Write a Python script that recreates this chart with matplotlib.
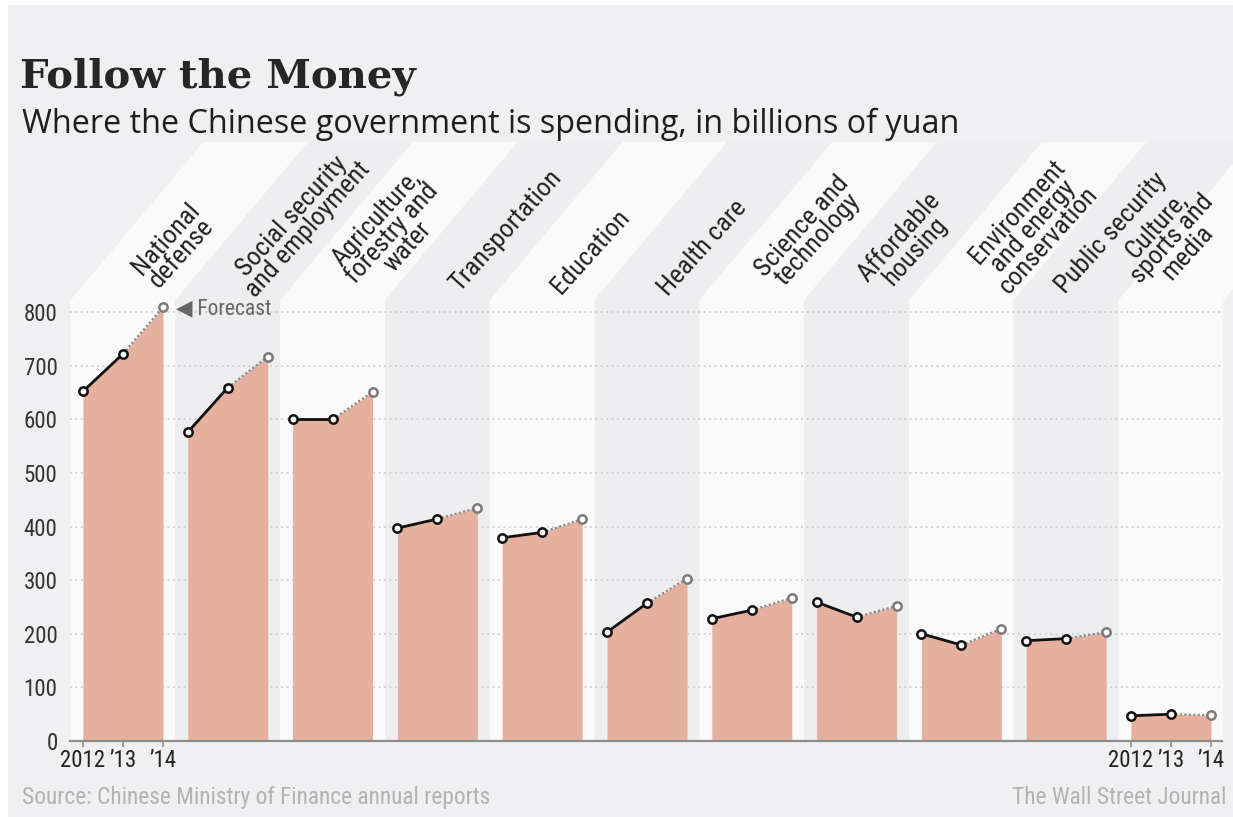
import matplotlib
matplotlib.use("Agg")
import matplotlib.pyplot as plt
from matplotlib.patches import Polygon, Rectangle
from matplotlib import font_manager

# ---- data: Chinese government spending, billions of yuan ----
categories = [
    "National\ndefense",
    "Social security\nand employment",
    "Agriculture,\nforestry and\nwater",
    "Transportation",
    "Education",
    "Health care",
    "Science and\ntechnology",
    "Affordable\nhousing",
    "Environment\nand energy\nconservation",
    "Public security",
    "Culture,\nsports and\nmedia",
]
year_labels = ["2012", "\u201913", "\u201914"]
spend_2012 = [652, 576, 600, 397, 379, 203, 228, 259, 200, 187, 47]
spend_2013 = [722, 659, 600, 414, 389, 257, 244, 231, 179, 191, 50]
spend_2014 = [809, 717, 651, 435, 414, 303, 267, 252, 209, 203, 48]
y_ticks = [0, 100, 200, 300, 400, 500, 600, 700, 800]

# ---- fonts ----
available = {f.name for f in font_manager.fontManager.ttflist}
def pick(*names):
    for n in names:
        if n in available:
            return n
    return "DejaVu Sans"

SANS = pick("Roboto Condensed", "Open Sans Condensed", "Liberation Sans Narrow", "Open Sans")
SUB = pick("Open Sans", "Lato")
SLAB = pick("Roboto Slab", "DejaVu Serif Condensed", "DejaVu Serif")
title_size = 29 if SLAB == "DejaVu Serif" else 33

# ---- style ----
BG = "#f0f0f2"
BAND_LIGHT = "#fafafb"
BAND_DARK = "#eeeef0"
FILL = "#e6b09f"
INK = "#222222"

W, H = 1233, 817
fig = plt.figure(figsize=(W / 100, H / 100), dpi=100, facecolor="white")
fig.add_artist(Rectangle((8 / W, 0), 1, (H - 5) / H, transform=fig.transFigure,
                         facecolor=BG, edgecolor="none", zorder=-10))

# plot area in pixels
left_px, right_px, top_px, base_px = 70, 1222, 300, 741
ax = fig.add_axes([left_px / W, (H - base_px) / H,
                   (right_px - left_px) / W, (base_px - top_px) / H])
ax.patch.set_visible(False)

PX_X = 40.0          # pixels per year step
PX_Y = 429 / 800.0   # pixels per billion yuan
STRIDE = 2.62        # spacing between category groups (in year steps)
x0_px = 83
ax.set_xlim((left_px - x0_px) / PX_X, (right_px - x0_px) / PX_X)
ytop = (base_px - top_px) / PX_Y
ax.set_ylim(0, ytop)

# alternating column bands with slanted heads behind the labels
slant_h_px = 158
slant_dx = slant_h_px / 1.19 / PX_X
y_head = ytop + slant_h_px / PX_Y
for i in range(len(categories)):
    a = i * STRIDE - 0.31
    b = a + STRIDE
    band = Polygon([(a, 0), (b, 0), (b, ytop), (b + slant_dx, y_head),
                    (a + slant_dx, y_head), (a, ytop)], closed=True,
                   facecolor=BAND_LIGHT if i % 2 == 0 else BAND_DARK,
                   edgecolor="none", zorder=0.1, clip_on=False)
    ax.add_patch(band)

# grid
ax.set_yticks(y_ticks)
ax.yaxis.grid(True, color="#cdcdd0", linestyle=(0, (1, 2)), linewidth=1.3)
ax.set_axisbelow(True)
for g in ax.get_ygridlines():
    g.set_zorder(0.5)

# series
for i in range(len(categories)):
    xs = [i * STRIDE + k for k in range(3)]
    vals = [spend_2012[i], spend_2013[i], spend_2014[i]]
    ax.fill_between(xs, 0, vals, color=FILL, linewidth=0, zorder=1)
    ax.plot(xs[1:], vals[1:], color="#8a8a8a", lw=1.6, ls=(0, (1, 1)), zorder=2)
    ax.plot(xs[:2], vals[:2], color="#111111", lw=2.0, zorder=2)
    ax.plot(xs[:2], vals[:2], "o", ms=6, mfc="white", mec="#111111", mew=1.8, zorder=3)
    ax.plot(xs[2:], vals[2:], "o", ms=6, mfc="white", mec="#7a7a7a", mew=1.8, zorder=3)

ax.annotate("\u25c0 Forecast", xy=(2, spend_2014[0]), xytext=(9, -1),
            textcoords="offset points", ha="left", va="center",
            fontsize=15.5, color="#666666", family=[SANS, "DejaVu Sans"], zorder=4)

# category labels, slanted above each group (centre of each label, in pixels)
label_pos = [(174, 246), (300, 223), (392, 233), (506, 231), (591, 252), (703, 248),
             (810, 233), (907, 244), (1033, 226), (1111, 233), (1172, 239)]
for name, (px, py) in zip(categories, label_pos):
    ax.text((px - x0_px) / PX_X, (base_px - py) / PX_Y, name, rotation=48,
            rotation_mode="anchor", ha="center", va="center", multialignment="center",
            fontsize=19, linespacing=0.82, color=INK, family=SANS, clip_on=False)

# axes decoration
for s in ("top", "right", "left"):
    ax.spines[s].set_visible(False)
ax.spines["bottom"].set_color("#8d8d8d")
ax.spines["bottom"].set_linewidth(1.6)
ax.tick_params(axis="y", length=0, pad=9, labelsize=16.5, labelcolor="#333333")
last = len(categories) - 1
ax.set_xticks([0, 1, 2] + [last * STRIDE + k for k in range(3)])
ax.set_xticklabels(year_labels * 2)
ax.tick_params(axis="x", length=4, width=1.2, color="#8d8d8d", pad=2,
               labelsize=16.5, labelcolor=INK)
for t in ax.get_xticklabels() + ax.get_yticklabels():
    t.set_family(SANS)

# titles and credits
fig.text(20 / W, 1 - 88 / H, "Follow the Money", family=SLAB, weight="bold",
         fontsize=title_size, color="#262626", va="baseline")
fig.text(22 / W, 1 - 133 / H, "Where the Chinese government is spending, in billions of yuan",
         family=SUB, fontsize=23.3, color="#1e1e1e", va="baseline")
fig.text(22 / W, 1 - 804 / H, "Source: Chinese Ministry of Finance annual reports",
         family=SANS, fontsize=16.8, color="#b3b3b3", va="baseline")
fig.text(1226 / W, 1 - 804 / H, "The Wall Street Journal", family=SANS, fontsize=16.8,
         color="#b3b3b3", va="baseline", ha="right")

fig.savefig("out.png", dpi=100, facecolor=fig.get_facecolor())
